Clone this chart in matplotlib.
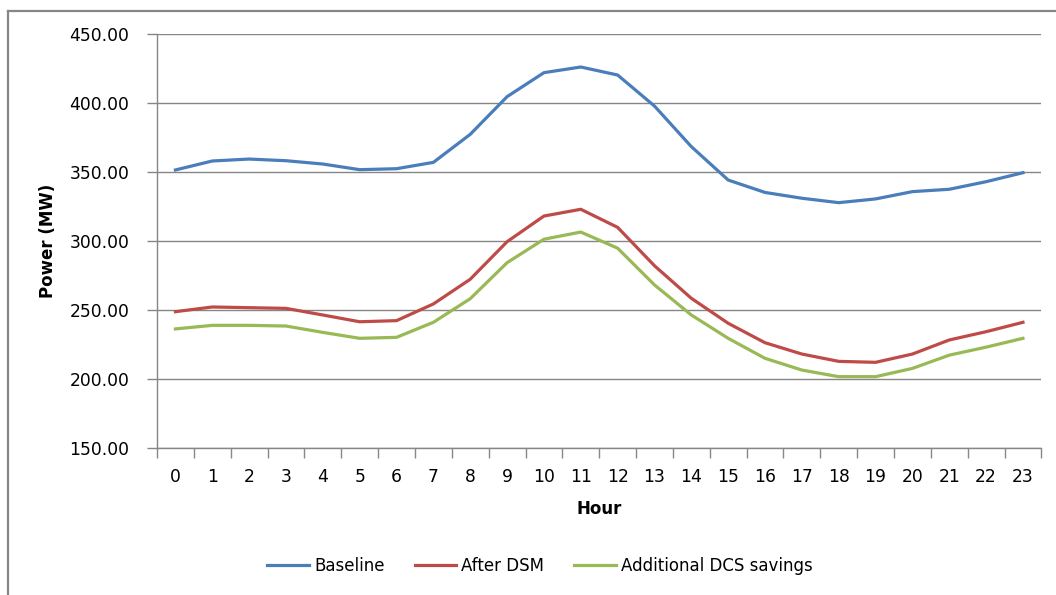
import matplotlib
matplotlib.use('Agg')
import matplotlib.pyplot as plt
from matplotlib.lines import Line2D

hours = list(range(24))

baseline = [351.7, 358.2, 359.6, 358.4, 356.0, 351.9, 352.6, 357.2, 377.5, 404.8, 422.2, 426.3,
            420.5, 398.0, 368.6, 344.4, 335.4, 331.2, 328.0, 330.7, 336.0, 337.7, 343.2, 349.7]
after_dsm = [249.0, 252.4, 251.9, 251.4, 246.6, 241.7, 242.5, 254.6, 272.5, 299.7, 318.3, 323.2,
             310.1, 282.3, 258.7, 240.6, 226.5, 218.3, 213.0, 212.3, 218.3, 228.5, 234.5, 241.3]
dcs_savings = [236.5, 239.1, 239.1, 238.6, 234.0, 229.7, 230.4, 241.3, 258.4, 284.5, 301.5, 306.7,
               295.0, 268.4, 246.6, 229.7, 215.2, 206.7, 201.9, 201.9, 207.9, 217.5, 223.3, 229.7]

y_ticks = [150, 200, 250, 300, 350, 400, 450]

plt.rcParams['font.family'] = ['DejaVu Sans']
plt.rcParams['font.size'] = 12

fig = plt.figure(figsize=(10.56, 5.95), dpi=100)
W, H = 1056, 595
ax = fig.add_axes([157 / W, 1 - 448.3 / H, 884.4 / W, 414 / H])

grid_col = '#868686'

ax.plot(hours, baseline, color='#4A7EBB', lw=2.3, label='Baseline')
ax.plot(hours, after_dsm, color='#BE4B48', lw=2.3, label='After DSM')
ax.plot(hours, dcs_savings, color='#98B954', lw=2.3, label='Additional DCS savings')

ax.set_xlim(-0.5, 23.5)
ax.set_ylim(150, 450)
ax.set_yticks(y_ticks)
ax.set_yticklabels(['%.2f' % v for v in y_ticks])
ax.set_xticks(hours)
ax.set_xticklabels([str(h) for h in hours])
ax.set_xticks([h - 0.5 for h in hours] + [23.5], minor=True)

ax.grid(axis='y', color=grid_col, lw=1)
ax.set_axisbelow(True)
ax.tick_params(axis='x', which='major', length=0, pad=14, labelsize=12.3)
ax.tick_params(axis='x', which='minor', length=7, color=grid_col, width=1)
ax.tick_params(axis='y', length=7, color=grid_col, width=1, pad=13, labelsize=12.3)

for s in ['top', 'right']:
    ax.spines[s].set_visible(False)
for s in ['left', 'bottom']:
    ax.spines[s].set_color(grid_col)
    ax.spines[s].set_linewidth(1)

ax.set_ylabel('Power (MW)', fontweight='bold', fontsize=12)
ax.yaxis.set_label_coords(-0.113, 0.5)
ax.set_xlabel('Hour', fontweight='bold', fontsize=12)
ax.xaxis.set_label_coords(0.5, -0.125)

fig.legend(loc='center', bbox_to_anchor=(540 / W, 1 - 566 / H), ncol=3, frameon=False,
           handlelength=2.5, handletextpad=0.3, columnspacing=1.8, fontsize=12)

# chart area border (only top and left visible in the crop)
yb = 1 - 10.5 / H
xb = 8 / W
fig.add_artist(Line2D([xb, 1], [yb, yb], transform=fig.transFigure, color=grid_col, lw=1.6))
fig.add_artist(Line2D([xb, xb], [0, yb], transform=fig.transFigure, color=grid_col, lw=1.6))

fig.savefig('out.png', dpi=100)
